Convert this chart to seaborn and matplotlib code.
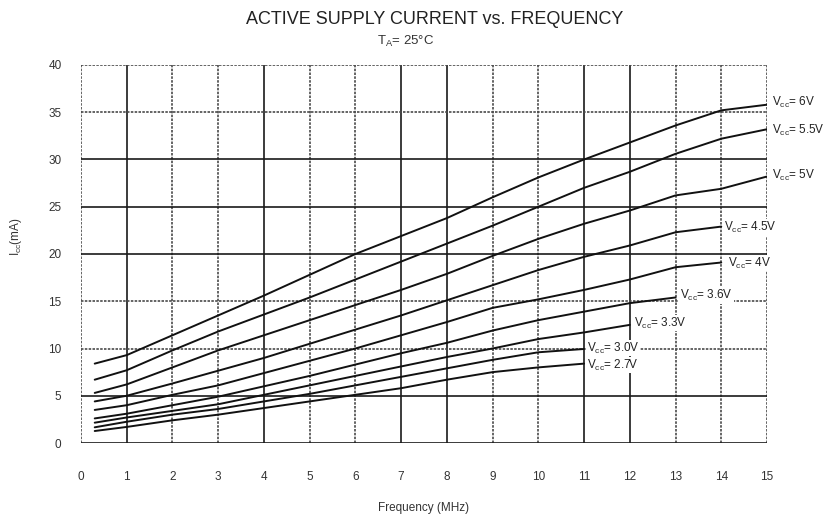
import numpy as np
import pandas as pd
import matplotlib
matplotlib.use("Agg")
import matplotlib.pyplot as plt
import seaborn as sns

# ---- data ----
freq_full = [0.3, 1, 2, 3, 4, 5, 6, 7, 8, 9, 10, 11, 12, 13, 14, 15]
v6_0 = [8.4, 9.3, 11.4, 13.5, 15.6, 17.8, 20.0, 21.9, 23.8, 26.0, 28.1, 30.0, 31.8, 33.6, 35.2, 35.8]
v5_5 = [6.7, 7.7, 9.8, 11.8, 13.6, 15.4, 17.3, 19.2, 21.1, 23.0, 25.0, 27.0, 28.7, 30.6, 32.2, 33.2]
v5_0 = [5.3, 6.2, 8.0, 9.8, 11.4, 13.0, 14.6, 16.2, 17.9, 19.8, 21.6, 23.2, 24.6, 26.2, 26.9, 28.2]
v4_5 = [4.4, 5.0, 6.3, 7.65, 9.0, 10.5, 12.0, 13.5, 15.1, 16.7, 18.3, 19.7, 20.9, 22.3, 22.9]
v4_0 = [3.5, 4.0, 5.1, 6.1, 7.4, 8.7, 10.0, 11.4, 12.8, 14.3, 15.2, 16.2, 17.3, 18.6, 19.1]
v3_6 = [2.6, 3.1, 4.0, 4.9, 6.0, 7.1, 8.3, 9.5, 10.6, 11.9, 13.0, 13.9, 14.8, 15.4]
v3_3 = [2.15, 2.7, 3.4, 4.1, 5.1, 6.1, 7.1, 8.1, 9.1, 10.0, 11.0, 11.7, 12.5]
v3_0 = [1.66, 2.25, 3.0, 3.6, 4.4, 5.2, 6.1, 7.0, 7.9, 8.8, 9.6, 9.95]
v2_7 = [1.27, 1.7, 2.4, 3.0, 3.7, 4.4, 5.1, 5.8, 6.7, 7.5, 8.0, 8.4]

series_names = ["6V", "5.5V", "5V", "4.5V", "4V", "3.6V", "3.3V", "3.0V", "2.7V"]
series_values = [v6_0, v5_5, v5_0, v4_5, v4_0, v3_6, v3_3, v3_0, v2_7]

x_ticks = list(range(0, 16))
y_ticks = list(range(0, 45, 5))

title = "ACTIVE SUPPLY CURRENT vs. FREQUENCY"
subtitle = r"T$_{A}$= 25°C"
x_label = "Frequency (MHz)"
y_label = r"I$_{\mathregular{cc}}$(mA)"

# label placement (layout only, data coordinates)
label_pos = {
    "6V": (15.1, 36.0), "5.5V": (15.1, 33.1), "5V": (15.1, 28.3),
    "4.5V": (14.05, 22.8), "4V": (14.15, 19.05), "3.6V": (13.1, 15.6),
    "3.3V": (12.1, 12.7), "3.0V": (11.06, 10.05), "2.7V": (11.06, 8.25),
}

rows = []
for name, vals in zip(series_names, series_values):
    for f, v in zip(freq_full, vals):
        rows.append({"freq": f, "icc": v, "vcc": name})
df = pd.DataFrame(rows)

sns.set_theme(style="white")
plt.rcParams["font.family"] = ["Liberation Sans", "DejaVu Sans"]
plt.rcParams["mathtext.default"] = "regular"

fig = plt.figure(figsize=(8.34, 5.18), dpi=100)
ax = fig.add_axes([81 / 834, 1 - 443 / 518, (767 - 81) / 834, (443 - 65) / 518])

sns.lineplot(data=df, x="freq", y="icc", hue="vcc", units="vcc", estimator=None,
             palette=["#111111"] * len(series_names), legend=False, linewidth=1.4,
             sort=True, ax=ax, zorder=3)

ax.set_xlim(0, 15)
ax.set_ylim(0, 40)
ax.set_xticks(x_ticks)
ax.set_yticks(y_ticks)
ax.tick_params(axis="both", length=0, labelsize=8.5, labelcolor="#333333")
ax.tick_params(axis="x", pad=20)
ax.tick_params(axis="y", pad=14)

ax.grid(True)
solid_x = {1, 4, 7, 8, 11, 12}
solid_y = {0, 5, 20, 25, 30}
for tick, gl in zip(x_ticks, ax.get_xgridlines()):
    if tick in solid_x:
        gl.set(color="#1a1a1a", linestyle="-", linewidth=1.2)
    else:
        gl.set(color="#4a4a4a", linestyle=(0, (1.5, 0.8)), linewidth=1.2)
for tick, gl in zip(y_ticks, ax.get_ygridlines()):
    if tick in solid_y:
        gl.set(color="#1a1a1a", linestyle="-", linewidth=1.2)
    else:
        gl.set(color="#4a4a4a", linestyle=(0, (1.5, 0.8)), linewidth=1.2)
for s in ax.spines.values():
    s.set_visible(False)

ax.set_xlabel(x_label, fontsize=8.5, color="#333333", labelpad=14)
ax.set_ylabel(y_label, fontsize=8.5, color="#333333")
ax.yaxis.set_label_coords(-0.083, 0.545)

for name in series_names:
    lx, ly = label_pos[name]
    ax.text(lx, ly, r"V$_{\mathregular{cc}}$= " + name, fontsize=8.5, color="#222222",
            ha="left", va="center", zorder=4,
            bbox=dict(facecolor="white", edgecolor="none", pad=0.5))

fig.text(435 / 834, 1 - 19 / 518, title, ha="center", va="center", fontsize=13, color="#222222")
fig.text(406 / 834, 1 - 41 / 518, subtitle, ha="center", va="center", fontsize=9.5, color="#333333")

fig.savefig("out.png", dpi=100, facecolor="white")
